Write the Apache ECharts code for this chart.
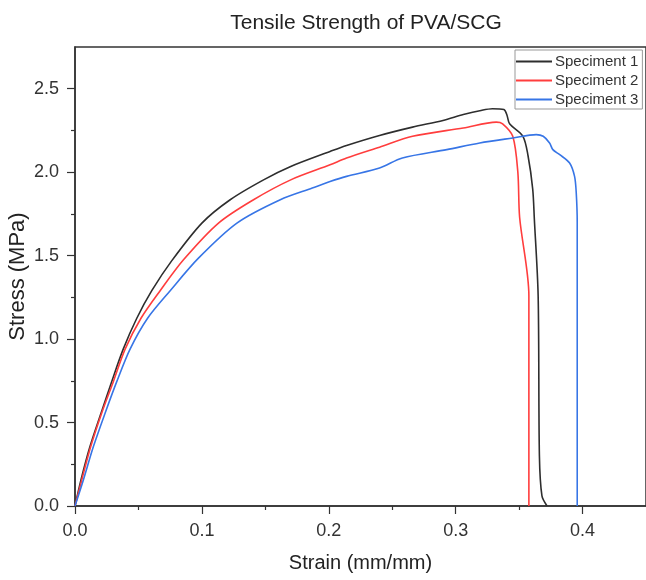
<!DOCTYPE html>
<html>
<head>
<meta charset="utf-8">
<script src="https://cdn.jsdelivr.net/npm/echarts@6/dist/echarts.min.js"></script>
<style>
  html, body { margin: 0; padding: 0; background: #fff; }
  #chart { width: 646px; height: 580px; }
</style>
</head>
<body>
<div id="chart"></div>
<script>
// values
const seriesNames = ['Speciment 1', 'Speciment 2', 'Speciment 3']

const s1Strain = [0, 0.0047, 0.0118, 0.0205, 0.0289, 0.038, 0.0487, 0.0605, 0.0763, 0.1, 0.1223, 0.1486, 0.17, 0.201, 0.214, 0.24, 0.266, 0.29, 0.306, 0.32, 0.329, 0.338, 0.3405, 0.3425, 0.353, 0.357, 0.3607, 0.362, 0.365, 0.366, 0.368, 0.372]
const s1Stress = [0, 0.156, 0.356, 0.556, 0.745, 0.94, 1.125, 1.29, 1.47, 1.695, 1.835, 1.954, 2.034, 2.124, 2.16, 2.22, 2.27, 2.31, 2.345, 2.37, 2.38, 2.375, 2.34, 2.29, 2.215, 2.1, 1.9, 1.72, 1.26, 0.3, 0.06, 0]

const s2Strain = [0, 0.0053, 0.0124, 0.021, 0.0302, 0.0395, 0.052, 0.0671, 0.0855, 0.1131, 0.1407, 0.17, 0.201, 0.214, 0.24, 0.266, 0.306, 0.332, 0.337, 0.345, 0.349, 0.3504, 0.3577, 0.3577]
const s2Stress = [0, 0.156, 0.356, 0.556, 0.745, 0.94, 1.125, 1.29, 1.475, 1.695, 1.835, 1.954, 2.044, 2.085, 2.15, 2.215, 2.265, 2.3, 2.29, 2.215, 2.0, 1.73, 1.26, 0]

const s3Strain = [0, 0.0066, 0.0145, 0.0237, 0.0329, 0.0434, 0.0572, 0.075, 0.0973, 0.1276, 0.1618, 0.187, 0.201, 0.214, 0.24, 0.258, 0.293, 0.319, 0.345, 0.3635, 0.369, 0.374, 0.3766, 0.382, 0.3898, 0.3937, 0.395, 0.3958, 0.3958]
const s3Stress = [0, 0.156, 0.356, 0.556, 0.745, 0.94, 1.125, 1.29, 1.485, 1.695, 1.835, 1.905, 1.944, 1.975, 2.025, 2.085, 2.135, 2.175, 2.205, 2.225, 2.215, 2.175, 2.135, 2.105, 2.055, 1.975, 1.88, 1.7, 0]

const xTicks = [0, 0.1, 0.2, 0.3, 0.4]
const xMinorTicks = [0.05, 0.15, 0.25, 0.35]
const yTicks = [0, 0.5, 1.0, 1.5, 2.0, 2.5]
const yMinorTicks = [0.25, 0.75, 1.25, 1.75, 2.25]

const colors = ['#2e2e2e', '#ff3d3d', '#3775e6']

function pairs(xs, ys) {
  return xs.map((x, i) => [x, ys[i]])
}

const font = '"Liberation Sans", Arial, sans-serif'
let myChart = echarts.init(document.getElementById('chart'))

myChart.setOption({
  animation: false,
  textStyle: { fontFamily: font },
  title: {
    text: 'Tensile Strength of PVA/SCG',
    left: 361,
    top: 8,
    textAlign: 'center',
    textStyle: { fontSize: 21, fontWeight: 'normal', color: '#222', fontFamily: font }
  },
  legend: {
    data: seriesNames,
    left: 515,
    top: 50,
    orient: 'vertical',
    itemWidth: 36,
    itemHeight: 2,
    itemGap: 4,
    padding: [4, 4, 2, 1],
    borderColor: '#999',
    borderWidth: 1,
    icon: 'rect',
    textStyle: { fontSize: 15, lineHeight: 15, color: '#333', fontFamily: font, padding: [0, 0, 0, -2] }
  },
  grid: {
    left: 75,
    right: 0,
    top: 47,
    bottom: 74,
    outerBoundsMode: 'none',
    show: true,
    borderColor: '#333',
    borderWidth: 1.5
  },
  xAxis: [
    {
      type: 'value',
      min: 0,
      max: 0.45,
      name: 'Strain (mm/mm)',
      nameLocation: 'middle',
      nameGap: 47,
      nameMoveOverlap: false,
      nameTextStyle: { fontSize: 20, color: '#222', fontFamily: font },
      axisLine: { lineStyle: { color: '#333', width: 1.5 } },
      axisTick: { length: 8, lineStyle: { color: '#333', width: 1.2 }, customValues: xTicks },
      axisLabel: {
        fontSize: 18, color: '#333', margin: 16,
        customValues: xTicks,
        formatter: v => v.toFixed(1)
      },
      splitLine: { show: false }
    },
    {
      type: 'value',
      min: 0,
      max: 0.45,
      position: 'bottom',
      axisLine: { show: false },
      axisTick: { length: 4, lineStyle: { color: '#333', width: 1.2 }, customValues: xMinorTicks },
      axisLabel: { show: false },
      splitLine: { show: false }
    }
  ],
  yAxis: [
    {
      type: 'value',
      min: 0,
      max: 2.75,
      name: 'Stress (MPa)',
      nameLocation: 'middle',
      nameGap: 46,
      nameMoveOverlap: false,
      nameTextStyle: { fontSize: 22, color: '#222', fontFamily: font },
      axisLine: { show: true, lineStyle: { color: '#333', width: 1.5 } },
      axisTick: { show: true, length: 8, lineStyle: { color: '#333', width: 1.2 }, customValues: yTicks },
      axisLabel: {
        fontSize: 18, color: '#333', margin: 16,
        customValues: yTicks,
        formatter: v => v.toFixed(1)
      },
      splitLine: { show: false }
    },
    {
      type: 'value',
      min: 0,
      max: 2.75,
      position: 'left',
      axisLine: { show: false },
      axisTick: { show: true, length: 4, lineStyle: { color: '#333', width: 1.2 }, customValues: yMinorTicks },
      axisLabel: { show: false },
      splitLine: { show: false }
    }
  ],
  series: [
    {
      name: seriesNames[0],
      type: 'line',
      showSymbol: false,
      smooth: 0.3,
      color: colors[0],
      lineStyle: { width: 1.6 },
      data: pairs(s1Strain, s1Stress)
    },
    {
      name: seriesNames[1],
      type: 'line',
      showSymbol: false,
      smooth: 0.3,
      color: colors[1],
      lineStyle: { width: 1.6 },
      data: pairs(s2Strain, s2Stress)
    },
    {
      name: seriesNames[2],
      type: 'line',
      showSymbol: false,
      smooth: 0.3,
      color: colors[2],
      lineStyle: { width: 1.6 },
      data: pairs(s3Strain, s3Stress)
    }
  ]
})
</script>
</body>
</html>
